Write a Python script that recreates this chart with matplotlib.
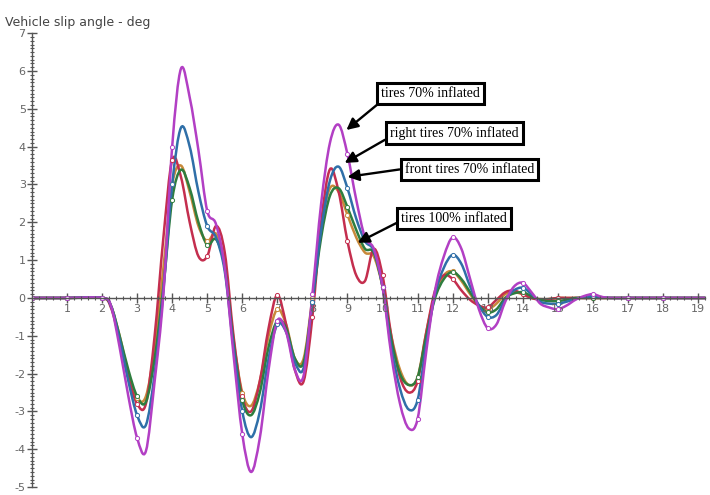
import matplotlib
matplotlib.use('Agg')
import matplotlib.pyplot as plt
import numpy as np
from matplotlib.path import Path
from matplotlib.patches import PathPatch
from matplotlib.ticker import MultipleLocator

plt.rcParams['axes.unicode_minus'] = False

# Zeitachse (s): Ruhephase, Manoeverabschnitt im 0.25 s Raster, Auslauf
t_before = [0.0, 1.0]
t_mid = [2.0 + 0.25 * i for i in range(59)]   # 2.0 ... 16.5
t_after = [17.0, 18.0, 19.2]
t = t_before + t_mid + t_after

slip_all70 = [0, -0.2, -1.3, -2.6, -3.7, -4.05, -2.2, 0.1, 4.0, 6.06, 5.3, 3.9, 2.3, 1.95,
              0.8, -1.5, -3.6, -4.6, -3.7, -1.9, -0.6, -0.9, -1.9, -2.05, 0.1, 2.5, 4.1, 4.58,
              3.8, 2.6, 1.6, 1.3, 0.3, -1.5, -2.8, -3.45, -3.2, -1.4, 0.2, 1.1, 1.6, 1.3,
              0.5, -0.3, -0.8, -0.7, -0.1, 0.3, 0.4, 0.15, -0.15, -0.25, -0.3, -0.2, -0.05,
              0.05, 0.1, 0.03, 0]
slip_right70 = [0, -0.2, -1.1, -2.2, -3.1, -3.36, -2.0, 0.2, 3.0, 4.5, 4.0, 2.8, 1.9, 1.6,
                0.7, -1.3, -3.0, -3.68, -3.0, -1.6, -0.7, -0.9, -1.7, -1.85, -0.1, 1.8, 3.1, 3.47,
                2.9, 2.1, 1.5, 1.25, 0.3, -1.3, -2.4, -2.95, -2.7, -1.2, 0.1, 0.8, 1.14, 0.9,
                0.3, -0.2, -0.5, -0.45, -0.05, 0.2, 0.27, 0.1, -0.1, -0.15, -0.15, -0.1, -0.03,
                0.02, 0.05, 0.02, 0]
slip_front70 = [0, -0.25, -1.1, -2.1, -2.8, -2.8, -1.0, 1.6, 3.65, 3.2, 2.0, 1.1, 1.1, 1.9,
                1.2, -1.0, -2.6, -3.0, -2.2, -0.8, 0.08, -0.7, -1.9, -2.2, -0.5, 2.0, 3.4, 2.8,
                1.5, 0.6, 0.45, 1.3, 0.6, -1.0, -2.1, -2.5, -2.2, -0.9, 0.2, 0.6, 0.5, 0.2,
                -0.05, -0.2, -0.25, -0.05, 0.15, 0.2, 0.1, 0.0, -0.05, -0.03, 0, 0, 0,
                0, 0, 0, 0]
slip_rear70 = [0, -0.2, -1.0, -2.0, -2.65, -2.6, -1.3, 0.8, 3.0, 3.5, 2.8, 1.9, 1.5, 1.7,
               0.9, -1.1, -2.5, -2.85, -2.2, -1.0, -0.3, -0.7, -1.6, -1.6, 0.0, 1.9, 2.9, 2.8,
               2.2, 1.6, 1.2, 1.1, 0.3, -1.0, -1.9, -2.3, -2.1, -0.9, 0.1, 0.6, 0.7, 0.45,
               0.1, -0.2, -0.3, -0.15, 0.1, 0.15, 0.1, 0.0, -0.03, -0.03, 0, 0, 0,
               0, 0, 0, 0]
slip_all100 = [0, -0.2, -1.0, -1.9, -2.6, -2.75, -1.6, 0.3, 2.6, 3.39, 2.9, 2.0, 1.4, 1.55,
               0.8, -1.2, -2.7, -3.1, -2.5, -1.3, -0.6, -0.8, -1.6, -1.7, -0.1, 1.6, 2.7, 2.9,
               2.4, 1.8, 1.3, 1.2, 0.3, -1.1, -2.0, -2.3, -2.1, -1.0, 0.0, 0.5, 0.69, 0.5,
               0.15, -0.2, -0.38, -0.3, 0.0, 0.12, 0.15, 0.05, -0.05, -0.08, -0.08, -0.05, 0,
               0, 0, 0, 0]

series = [
    (slip_rear70, '#c8893a'),
    (slip_front70, '#c42e4e'),
    (slip_all100, '#2e7d3e'),
    (slip_right70, '#2f6fa8'),
    (slip_all70, '#b23fc4'),
]

labels = ['tires 70% inflated', 'right tires 70% inflated',
          'front tires 70% inflated', 'tires 100% inflated']
label_pos = [(11.37, 5.41), (12.05, 4.35), (12.48, 3.40), (12.05, 2.10)]
arrow_tip = [(8.97, 4.44), (8.92, 3.57), (9.0, 3.2), (9.29, 1.46)]
arrow_rel = [(0.02, 0.0), (0.0, 0.25), (0.0, 0.55), (0.0, 0.35)]


def smooth_path(x, y):
    # Catmull-Rom Kurve durch die Punkte als Bezier-Pfad
    pts = np.column_stack([x, y]).astype(float)
    pts = np.vstack([pts[0], pts, pts[-1]])
    verts = [pts[1]]
    codes = [Path.MOVETO]
    for i in range(1, len(pts) - 2):
        p0, p1, p2, p3 = pts[i - 1], pts[i], pts[i + 1], pts[i + 2]
        verts += [p1 + (p2 - p0) / 6, p2 - (p3 - p1) / 6, p2]
        codes += [Path.CURVE4] * 3
    return Path(verts, codes)


fig = plt.figure(figsize=(7.1, 4.95), dpi=100)
ax = fig.add_axes([0.045, 0.016, 0.948, 0.917])

for vals, col in series:
    y = [0, 0] + vals + [0, 0, 0]
    ax.add_patch(PathPatch(smooth_path(t, y), fill=False, edgecolor=col, lw=1.8,
                           capstyle='round', joinstyle='round'))
    # kleine offene Marker an den ganzen Sekunden
    mk = [(ti, yi) for ti, yi in zip(t, y) if float(ti).is_integer()]
    ax.plot([m[0] for m in mk], [m[1] for m in mk], ls='none', marker='o', ms=3.0,
            mfc='white', mec=col, mew=0.7)

ax.set_xlim(0, 19.2)
ax.set_ylim(-5, 7)

# Achsen durch den Ursprung, kein Rahmen
ax.spines['left'].set_position(('data', 0))
ax.spines['bottom'].set_position(('data', 0))
ax.spines['right'].set_visible(False)
ax.spines['top'].set_visible(False)
for s in ['left', 'bottom']:
    ax.spines[s].set_color('#555555')
    ax.spines[s].set_linewidth(1.0)

ax.xaxis.set_major_locator(MultipleLocator(1))
ax.xaxis.set_minor_locator(MultipleLocator(0.2))
ax.yaxis.set_major_locator(MultipleLocator(1))
ax.yaxis.set_minor_locator(MultipleLocator(0.1))
ax.tick_params(which='major', direction='inout', length=7, width=1.0, color='#555555',
               labelsize=8, labelcolor='#666666', pad=1)
ax.tick_params(which='minor', direction='inout', length=3.5, width=0.8, color='#555555')
ax.set_xticks(range(1, 20))
ax.set_xticklabels([str(i) for i in range(1, 20)])

fig.text(0.007, 0.955, 'Vehicle slip angle - deg', fontsize=9, color='#444444',
         ha='left', va='center')

for txt, pos, tip, rel in zip(labels, label_pos, arrow_tip, arrow_rel):
    ax.annotate(txt, xy=tip, xytext=pos, ha='center', va='center',
                fontsize=10, family='Liberation Serif', color='black',
                bbox=dict(boxstyle='square,pad=0.3', fc='white', ec='black', lw=2.2),
                arrowprops=dict(arrowstyle='-|>', color='black', lw=1.7,
                                mutation_scale=17, relpos=rel, shrinkA=0, shrinkB=0))

fig.savefig('out.png', dpi=100)
